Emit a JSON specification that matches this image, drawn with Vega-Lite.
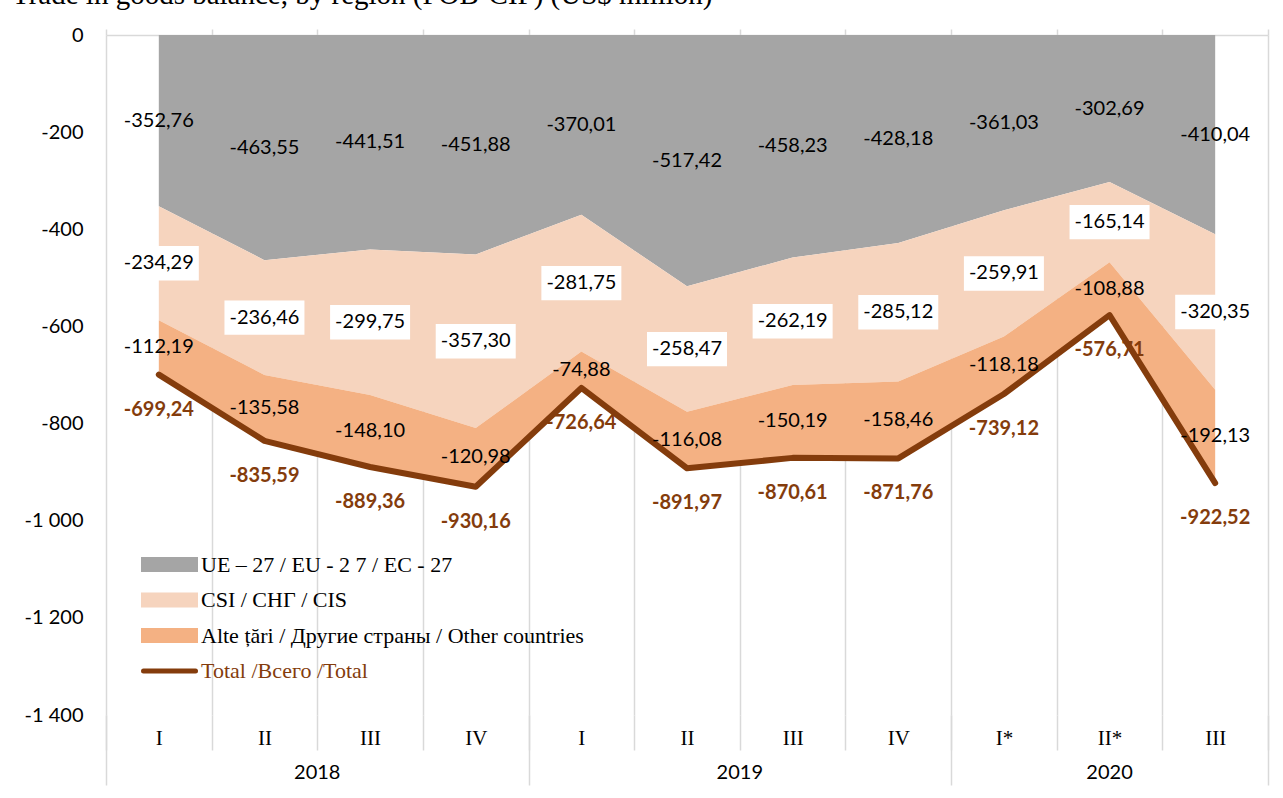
{
  "$schema": "https://vega.github.io/schema/vega-lite/v6.json",
  "width": 1162,
  "height": 680,
  "autosize": {"type": "none"},
  "padding": {"left": 106, "top": 35, "right": 15, "bottom": 83},
  "background": "white",
  "title": {
    "text": "Trade in goods balance, by region (FOB-CIF) (US$ million)",
    "anchor": "start",
    "frame": "group",
    "orient": "top",
    "baseline": "alphabetic",
    "offset": 12,
    "dy": 20,
    "dx": -94,
    "font": "Liberation Serif",
    "fontSize": 29,
    "fontWeight": "normal",
    "color": "#000000"
  },
  "config": {
    "view": {"stroke": null},
    "locale": {
      "number": {"decimal": ",", "thousands": " ", "grouping": [3], "currency": ["", ""], "minus": "-"}
    }
  },
  "data": {
    "values": [
      {"period": "2018 I", "series": "UE – 27 / EU - 2 7 / EC - 27", "value": -352.76},
      {"period": "2018 I", "series": "CSI / СНГ / CIS", "value": -234.29},
      {"period": "2018 I", "series": "Alte țări / Другие страны / Other countries", "value": -112.19},
      {"period": "2018 I", "series": "Total /Всего /Total", "value": -699.24},
      {"period": "2018 II", "series": "UE – 27 / EU - 2 7 / EC - 27", "value": -463.55},
      {"period": "2018 II", "series": "CSI / СНГ / CIS", "value": -236.46},
      {"period": "2018 II", "series": "Alte țări / Другие страны / Other countries", "value": -135.58},
      {"period": "2018 II", "series": "Total /Всего /Total", "value": -835.59},
      {"period": "2018 III", "series": "UE – 27 / EU - 2 7 / EC - 27", "value": -441.51},
      {"period": "2018 III", "series": "CSI / СНГ / CIS", "value": -299.75},
      {"period": "2018 III", "series": "Alte țări / Другие страны / Other countries", "value": -148.10},
      {"period": "2018 III", "series": "Total /Всего /Total", "value": -889.36},
      {"period": "2018 IV", "series": "UE – 27 / EU - 2 7 / EC - 27", "value": -451.88},
      {"period": "2018 IV", "series": "CSI / СНГ / CIS", "value": -357.30},
      {"period": "2018 IV", "series": "Alte țări / Другие страны / Other countries", "value": -120.98},
      {"period": "2018 IV", "series": "Total /Всего /Total", "value": -930.16},
      {"period": "2019 I", "series": "UE – 27 / EU - 2 7 / EC - 27", "value": -370.01},
      {"period": "2019 I", "series": "CSI / СНГ / CIS", "value": -281.75},
      {"period": "2019 I", "series": "Alte țări / Другие страны / Other countries", "value": -74.88},
      {"period": "2019 I", "series": "Total /Всего /Total", "value": -726.64},
      {"period": "2019 II", "series": "UE – 27 / EU - 2 7 / EC - 27", "value": -517.42},
      {"period": "2019 II", "series": "CSI / СНГ / CIS", "value": -258.47},
      {"period": "2019 II", "series": "Alte țări / Другие страны / Other countries", "value": -116.08},
      {"period": "2019 II", "series": "Total /Всего /Total", "value": -891.97},
      {"period": "2019 III", "series": "UE – 27 / EU - 2 7 / EC - 27", "value": -458.23},
      {"period": "2019 III", "series": "CSI / СНГ / CIS", "value": -262.19},
      {"period": "2019 III", "series": "Alte țări / Другие страны / Other countries", "value": -150.19},
      {"period": "2019 III", "series": "Total /Всего /Total", "value": -870.61},
      {"period": "2019 IV", "series": "UE – 27 / EU - 2 7 / EC - 27", "value": -428.18},
      {"period": "2019 IV", "series": "CSI / СНГ / CIS", "value": -285.12},
      {"period": "2019 IV", "series": "Alte țări / Другие страны / Other countries", "value": -158.46},
      {"period": "2019 IV", "series": "Total /Всего /Total", "value": -871.76},
      {"period": "2020 I*", "series": "UE – 27 / EU - 2 7 / EC - 27", "value": -361.03},
      {"period": "2020 I*", "series": "CSI / СНГ / CIS", "value": -259.91},
      {"period": "2020 I*", "series": "Alte țări / Другие страны / Other countries", "value": -118.18},
      {"period": "2020 I*", "series": "Total /Всего /Total", "value": -739.12},
      {"period": "2020 II*", "series": "UE – 27 / EU - 2 7 / EC - 27", "value": -302.69},
      {"period": "2020 II*", "series": "CSI / СНГ / CIS", "value": -165.14},
      {"period": "2020 II*", "series": "Alte țări / Другие страны / Other countries", "value": -108.88},
      {"period": "2020 II*", "series": "Total /Всего /Total", "value": -576.71},
      {"period": "2020 III", "series": "UE – 27 / EU - 2 7 / EC - 27", "value": -410.04},
      {"period": "2020 III", "series": "CSI / СНГ / CIS", "value": -320.35},
      {"period": "2020 III", "series": "Alte țări / Другие страны / Other countries", "value": -192.13},
      {"period": "2020 III", "series": "Total /Всего /Total", "value": -922.52}
    ]
  },
  "resolve": {"scale": {"x": "shared", "y": "shared", "color": "shared"}, "axis": {"x": "independent"}},
  "layer": [
    {
      "transform": [{"filter": "datum.series !== 'Total /Всего /Total'"}],
      "mark": {"type": "area", "opacity": 1},
      "encoding": {
        "x": {
          "field": "period", "type": "nominal", "sort": null, "bandPosition": 0.5,
          "scale": {"type": "band", "paddingInner": 0, "paddingOuter": 0},
          "axis": {
            "orient": "bottom", "title": null, "tickBand": "extent", "grid": true, "gridColor": "#d9d9d9", "gridWidth": 1.5,
            "ticks": true, "tickSize": 35, "tickColor": "#d9d9d9", "tickWidth": 1.5, "domain": false,
            "labelExpr": "split(datum.label, ' ')[1]", "labelFont": "Liberation Serif", "labelFontSize": 21,
            "labelColor": "#000000", "labelPadding": -23, "labelAngle": 0, "labelOverlap": false
          }
        },
        "y": {
          "field": "value", "type": "quantitative", "stack": "zero",
          "scale": {"domain": [-1400, 0], "nice": false},
          "axis": {
            "title": null, "values": [0, -200, -400, -600, -800, -1000, -1200, -1400], "format": ",d",
            "grid": false, "ticks": false, "domain": false, "labelFont": "Lato", "labelFontSize": 20,
            "labelColor": "#000000", "labelPadding": 23
          }
        },
        "color": {
          "field": "series", "type": "nominal",
          "scale": {
            "domain": ["UE – 27 / EU - 2 7 / EC - 27", "CSI / СНГ / CIS", "Alte țări / Другие страны / Other countries", "Total /Всего /Total"],
            "range": ["#a5a5a5", "#f6d4be", "#f4b183", "#843c0c"]
          },
          "legend": {
            "title": null, "orient": "none", "legendX": 51, "legendY": 517, "padding": 0,
            "labelFont": "Liberation Serif", "labelFontSize": 22, "labelColor": "#000000", "labelLimit": 700,
            "rowPadding": 4.5, "labelOffset": 19, "symbolSize": 400,
            "encode": {
              "symbols": {"update": {
                "shape": {"signal": "datum.value === 'Total /Всего /Total' ? 'M-2.6,-0.5M-2.6,0H2.6M2.6,0.5' : 'M-2.6,-0.5H2.6V0.5H-2.6Z'"},
                "size": {"value": 400},
                "fill": {"signal": "datum.value === 'Total /Всего /Total' ? 'transparent' : scale('color', datum.value)"},
                "stroke": {"signal": "datum.value === 'Total /Всего /Total' ? '#843c0c' : 'transparent'"},
                "strokeWidth": {"value": 5},
                "strokeCap": {"value": "round"},
                "opacity": {"value": 1}
              }},
              "labels": {"update": {
                "fill": {"signal": "datum.value === 'Total /Всего /Total' ? '#843c0c' : '#000000'"}
              }}
            }
          }
        },
        "order": {"field": "series", "sort": "descending"}
      }
    },
    {
      "transform": [{"filter": "datum.series === 'Total /Всего /Total'"}],
      "mark": {"type": "line", "strokeWidth": 6, "strokeCap": "round", "strokeJoin": "round"},
      "encoding": {
        "x": {
          "field": "period", "type": "nominal", "sort": null, "bandPosition": 0.5,
          "axis": {
            "orient": "top", "title": null, "tickBand": "extent", "grid": false, "labels": false,
            "ticks": true, "tickSize": 6, "tickColor": "#d9d9d9", "tickWidth": 1.5,
            "domain": true, "domainColor": "#d9d9d9", "domainWidth": 1.5
          }
        },
        "y": {"field": "value", "type": "quantitative"},
        "color": {
          "field": "series", "type": "nominal",
          "legend": {
            "title": null, "orient": "none", "legendX": 51, "legendY": 517, "padding": 0,
            "labelFont": "Liberation Serif", "labelFontSize": 22, "labelColor": "#000000", "labelLimit": 700,
            "rowPadding": 4.5, "labelOffset": 19, "symbolSize": 400,
            "encode": {
              "symbols": {"update": {
                "shape": {"signal": "datum.value === 'Total /Всего /Total' ? 'M-2.6,-0.5M-2.6,0H2.6M2.6,0.5' : 'M-2.6,-0.5H2.6V0.5H-2.6Z'"},
                "size": {"value": 400},
                "fill": {"signal": "datum.value === 'Total /Всего /Total' ? 'transparent' : scale('color', datum.value)"},
                "stroke": {"signal": "datum.value === 'Total /Всего /Total' ? '#843c0c' : 'transparent'"},
                "strokeWidth": {"value": 5},
                "strokeCap": {"value": "round"},
                "opacity": {"value": 1}
              }},
              "labels": {"update": {
                "fill": {"signal": "datum.value === 'Total /Всего /Total' ? '#843c0c' : '#000000'"}
              }}
            }
          }
        }
      }
    },
    {
      "transform": [{"filter": "datum.series !== 'Total /Всего /Total'"}],
      "mark": {"type": "point", "shape": "M-1,-0.43H1V0.43H-1Z", "size": 6400, "filled": true, "fill": "#ffffff", "strokeWidth": 0},
      "encoding": {
        "x": {
          "field": "period", "type": "nominal", "sort": null, "bandPosition": 0.5,
          "axis": {
            "orient": "bottom", "title": null, "values": ["2018 II", "2019 II", "2020 II*"], "ticks": false, "grid": false, "domain": false,
            "labelExpr": "split(datum.label, ' ')[0]",
            "labelOffset": {"condition": {"test": "datum.value !== '2020 II*'", "value": 52.8}, "value": 0},
            "labelFont": "Lato", "labelFontSize": 20, "labelColor": "#000000", "labelPadding": 47,
            "labelAngle": 0, "labelOverlap": false
          }
        },
        "y": {"field": "value", "type": "quantitative", "stack": "zero", "bandPosition": 0.5},
        "opacity": {"condition": {"test": "datum.series === 'CSI / СНГ / CIS'", "value": 1}, "value": 0},
        "order": {"field": "series", "sort": "descending"}
      }
    },
    {
      "transform": [{"filter": "datum.series !== 'Total /Всего /Total'"}],
      "mark": {"type": "text", "font": "Lato", "fontSize": 20, "color": "#000000", "baseline": "middle"},
      "encoding": {
        "x": {
          "field": "period", "type": "nominal", "sort": null, "bandPosition": 0.5,
          "axis": {
            "orient": "bottom", "title": null, "tickBand": "extent", "grid": false, "domain": false, "labels": false,
            "ticks": true, "tickSize": 70, "tickColor": "#d9d9d9", "tickWidth": 1.5,
            "tickOpacity": {"condition": {"test": "datum.extra || datum.value === '2018 IV' || datum.value === '2019 IV' || datum.value === '2020 III'", "value": 1}, "value": 0}
          }
        },
        "y": {"field": "value", "type": "quantitative", "stack": "zero", "bandPosition": 0.5},
        "text": {"field": "value", "type": "quantitative", "format": ".2f"},
        "order": {"field": "series", "sort": "descending"}
      }
    },
    {
      "transform": [{"filter": "datum.series === 'Total /Всего /Total'"}],
      "mark": {"type": "text", "font": "Lato", "fontSize": 20, "fontWeight": "bold", "color": "#843c0c", "baseline": "middle", "dy": 35},
      "encoding": {
        "x": {"field": "period", "type": "nominal", "sort": null, "bandPosition": 0.5, "axis": null},
        "y": {"field": "value", "type": "quantitative"},
        "text": {"field": "value", "type": "quantitative", "format": ".2f"}
      }
    }
  ]
}
